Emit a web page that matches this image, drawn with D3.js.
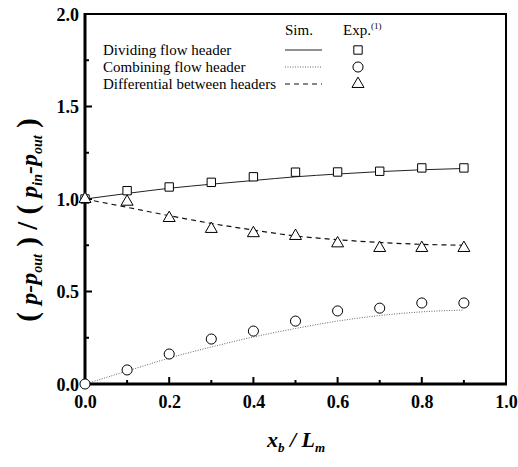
<!DOCTYPE html>
<html>
<head>
<meta charset="utf-8">
<script src="https://cdn.jsdelivr.net/npm/d3@7"></script>
<style>
  body { margin: 0; background: #fff; }
  text { font-family: "Liberation Serif", "Times New Roman", serif; }
</style>
</head>
<body>
<svg width="518" height="467"></svg>
<script>
// x positions (x_b / L_m)
var expX = [0.0, 0.1, 0.2, 0.3, 0.4, 0.5, 0.6, 0.7, 0.8, 0.9];
var simX = [0.0, 0.1, 0.2, 0.3, 0.4, 0.5, 0.6, 0.7, 0.8, 0.9];

// experiment markers
var expDividing = [1.0, 1.045, 1.065, 1.09, 1.12, 1.145, 1.146, 1.15, 1.168, 1.168];
var expCombining = [0.0, 0.076, 0.162, 0.243, 0.286, 0.34, 0.395, 0.41, 0.438, 0.438];
var expDifferential = [1.0, 0.985, 0.897, 0.838, 0.815, 0.80, 0.76, 0.735, 0.735, 0.735];

// simulation curves
var simDividing = [1.0, 1.03, 1.058, 1.08, 1.10, 1.12, 1.135, 1.148, 1.158, 1.165];
var simCombining = [0.0, 0.07, 0.14, 0.2, 0.254, 0.3, 0.34, 0.37, 0.39, 0.40];
var simDifferential = [1.0, 0.955, 0.91, 0.868, 0.832, 0.80, 0.78, 0.765, 0.755, 0.75];

var xTicks = [0, 0.2, 0.4, 0.6, 0.8, 1.0];
var yTicks = [0, 0.5, 1.0, 1.5, 2.0];

var svg = d3.select("svg"),
    pl = 85, pr = 506, pt = 14, pb = 384;

var x = d3.scaleLinear().domain([0, 1]).range([pl, pr]);
var y = d3.scaleLinear().domain([0, 2]).range([pb, pt]);

// frame
svg.append("rect")
  .attr("x", pl).attr("y", pt)
  .attr("width", pr - pl).attr("height", pb - pt)
  .attr("fill", "none").attr("stroke", "#000").attr("stroke-width", 2);

// thicker left / bottom
svg.append("line").attr("x1", pl).attr("x2", pl).attr("y1", pt - 1).attr("y2", pb + 1.5)
  .attr("stroke", "#000").attr("stroke-width", 3);
svg.append("line").attr("x1", pl - 1.5).attr("x2", pr + 1).attr("y1", pb).attr("y2", pb)
  .attr("stroke", "#000").attr("stroke-width", 3);

// tick labels
var xAxis = d3.axisBottom(x).tickValues(xTicks).tickSize(0).tickFormat(d3.format(".1f"));
var gx = svg.append("g").attr("transform", "translate(0," + pb + ")").call(xAxis);
gx.select(".domain").remove();
gx.selectAll("text").attr("y", 8).attr("dy", "0.9em")
  .style("font-size", "18px").style("font-weight", "bold").attr("fill", "#000");

var yAxis = d3.axisLeft(y).tickValues(yTicks).tickSize(0).tickFormat(d3.format(".1f"));
var gy = svg.append("g").attr("transform", "translate(" + pl + ",0)").call(yAxis);
gy.select(".domain").remove();
gy.selectAll("text").attr("x", -6).attr("dy", "0.35em")
  .style("font-size", "18px").style("font-weight", "bold").attr("fill", "#000");

// inward ticks, major and minor
svg.selectAll(".xt").data(d3.range(0, 1.01, 0.1)).enter().append("line")
  .attr("x1", function(d) { return x(d); }).attr("x2", function(d) { return x(d); })
  .attr("y1", pb).attr("y2", function(d, i) { return pb - (i % 2 ? 4 : 7); })
  .attr("stroke", "#000").attr("stroke-width", 2);
svg.selectAll(".yt").data(d3.range(0, 2.01, 0.25)).enter().append("line")
  .attr("y1", function(d) { return y(d); }).attr("y2", function(d) { return y(d); })
  .attr("x1", pl).attr("x2", function(d, i) { return pl + (i % 2 ? 4 : 7); })
  .attr("stroke", "#000").attr("stroke-width", 2);

// simulation lines
var line = d3.line()
  .x(function(d) { return x(d[0]); })
  .y(function(d) { return y(d[1]); })
  .curve(d3.curveMonotoneX);

var series = [
  { sim: simDividing, exp: expDividing, dash: null, color: "#222", width: 1, shape: d3.symbolSquare, size: 70 },
  { sim: simCombining, exp: expCombining, dash: "1,1.5", color: "#666", width: 1, shape: d3.symbolCircle, size: 80 },
  { sim: simDifferential, exp: expDifferential, dash: "5,4", color: "#111", width: 1.2, shape: d3.symbolTriangle, size: 62 }
];

series.forEach(function(s) {
  svg.append("path")
    .attr("d", line(d3.zip(simX, s.sim)))
    .attr("fill", "none").attr("stroke", s.color)
    .attr("stroke-width", s.width)
    .attr("stroke-dasharray", s.dash);
});

series.forEach(function(s) {
  svg.selectAll(null).data(d3.zip(expX, s.exp)).enter().append("path")
    .attr("transform", function(d) { return "translate(" + x(d[0]) + "," + y(d[1]) + ")"; })
    .attr("d", d3.symbol().type(s.shape).size(s.size))
    .attr("fill", "#fff").attr("stroke", "#000").attr("stroke-width", 1);
});

// legend
var legendNames = ["Dividing flow header", "Combining flow header", "Differential between headers"];
var legendY = [50, 67, 84];

svg.append("text").attr("x", 285).attr("y", 35).style("font-size", "15px").text("Sim.");
var exp = svg.append("text").attr("x", 343).attr("y", 35).style("font-size", "15px");
exp.append("tspan").text("Exp.");
exp.append("tspan").attr("dy", -6).style("font-size", "9px").text("(1)");

legendNames.forEach(function(name, i) {
  var s = series[i];
  svg.append("text").attr("x", 103).attr("y", legendY[i] + 5)
    .style("font-size", "15px").text(name);
  svg.append("line").attr("x1", 285).attr("x2", 322)
    .attr("y1", legendY[i]).attr("y2", legendY[i])
    .attr("stroke", s.color).attr("stroke-width", s.width)
    .attr("stroke-dasharray", s.dash);
  svg.append("path").attr("transform", "translate(358," + legendY[i] + ")")
    .attr("d", d3.symbol().type(s.shape).size(s.size))
    .attr("fill", "#fff").attr("stroke", "#000").attr("stroke-width", 1);
});

// x title
var xt = svg.append("text").attr("x", 296).attr("y", 447).attr("text-anchor", "middle")
  .style("font-size", "22px").style("font-weight", "bold").style("font-style", "italic");
xt.append("tspan").text("x");
xt.append("tspan").attr("dy", 5).style("font-size", "13px").text("b");
xt.append("tspan").attr("dy", -5).text(" / L");
xt.append("tspan").attr("dy", 5).style("font-size", "13px").text("m");

// y title
var yt = svg.append("text").attr("transform", "translate(37,220) rotate(-90)")
  .attr("text-anchor", "middle")
  .style("font-size", "24px").style("font-weight", "bold").style("font-style", "italic");
yt.append("tspan").style("font-style", "normal").style("font-size", "29px").text("( ");
yt.append("tspan").text("p-p");
yt.append("tspan").attr("dy", 5).style("font-size", "14px").text("out");
yt.append("tspan").attr("dy", -5).style("font-style", "normal").style("font-size", "29px").text(" ) / ( ");
yt.append("tspan").text("p");
yt.append("tspan").attr("dy", 5).style("font-size", "14px").text("in");
yt.append("tspan").attr("dy", -5).text("-p");
yt.append("tspan").attr("dy", 5).style("font-size", "14px").text("out");
yt.append("tspan").attr("dy", -5).style("font-style", "normal").style("font-size", "29px").text(" )");
</script>
</body>
</html>
